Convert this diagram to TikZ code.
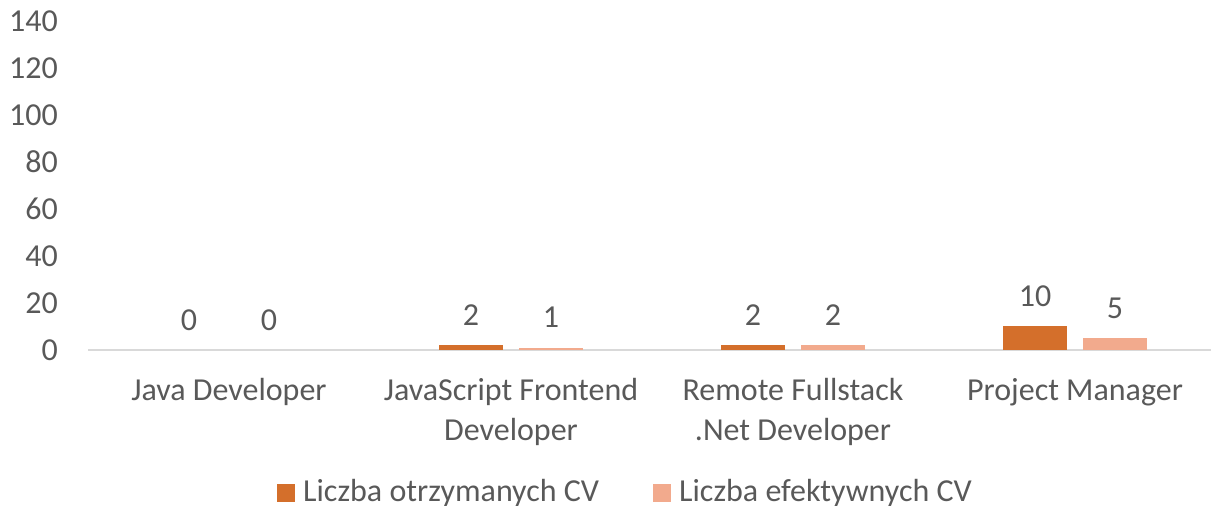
\documentclass[tikz,border=0pt]{standalone}
\usepackage{fontspec}
\setmainfont{Carlito}
\usetikzlibrary{positioning}
\usetikzlibrary{calc}

\definecolor{labelgray}{HTML}{595959}
\definecolor{gridgray}{HTML}{D9D9D9}
\definecolor{cvdark}{HTML}{D46F2B}
\definecolor{cvlight}{HTML}{F2AA8D}

\begin{document}
\begin{tikzpicture}[
	x=1pt,
	y=1pt,
	font=\fontsize{32}{40}\selectfont,
	text=labelgray]

\tikzstyle{axis line}=[gridgray,line width=1.5pt]
\tikzstyle{tick label}=[anchor=east,inner sep=0pt]
\tikzstyle{value label}=[inner sep=0pt]
\tikzstyle{category}=[anchor=base,align=center,inner sep=0pt]
\tikzstyle{legend key}=[minimum size=18pt,inner sep=0pt]

\def\Base{156}
\def\Unit{2.35}
\def\CatWidth{282}
\def\FirstCenter{229}

\useasboundingbox (0,0) rectangle (1211,506);

% value axis labels
\foreach \v in {0,20,...,140}
	\node[tick label] (tick\v) at (58, \Base + \v * \Unit) {\v};

% category axis
\coordinate (axisstart) at (88, \Base);
\coordinate (axisend) at (1211, \Base);
\draw[axis line] (axisstart) -- (axisend);

% bars with their value labels
\foreach \c/\a/\b in {0/0/0, 1/2/1, 2/2/2, 3/10/5} {
	\pgfmathsetmacro{\Center}{\FirstCenter + \c * \CatWidth}
	\ifnum\a>0
		\fill[cvdark] (\Center - 72, \Base) rectangle (\Center - 8, \Base + \a * \Unit);
	\fi
	\ifnum\b>0
		\fill[cvlight] (\Center + 8, \Base) rectangle (\Center + 72, \Base + \b * \Unit);
	\fi
	\node[value label] (recv\c) at (\Center - 40, \Base + \a * \Unit + 30) {\a};
	\node[value label] (eff\c) at (\Center + 40, \Base + \b * \Unit + 30) {\b};
}

% category names (base is the last line)
\node[category] (java) at (229, 105) {Java Developer};
\node[category] (jsfront) at (511, 65) {JavaScript Frontend\\Developer};
\node[category] (fullstack) at (793, 65) {Remote Fullstack\\.Net Developer};
\node[category] (pm) at (1075, 105) {Project Manager};

% legend
\node[legend key,fill=cvdark] (keydark) at (286, 13) {};
\node[anchor=west,inner sep=0pt] (legdark) at (303, 13) {Liczba otrzymanych CV};
\node[legend key,fill=cvlight] (keylight) at (662, 13) {};
\node[anchor=west,inner sep=0pt] (leglight) at (679, 13) {Liczba efektywnych CV};

\end{tikzpicture}
\end{document}
